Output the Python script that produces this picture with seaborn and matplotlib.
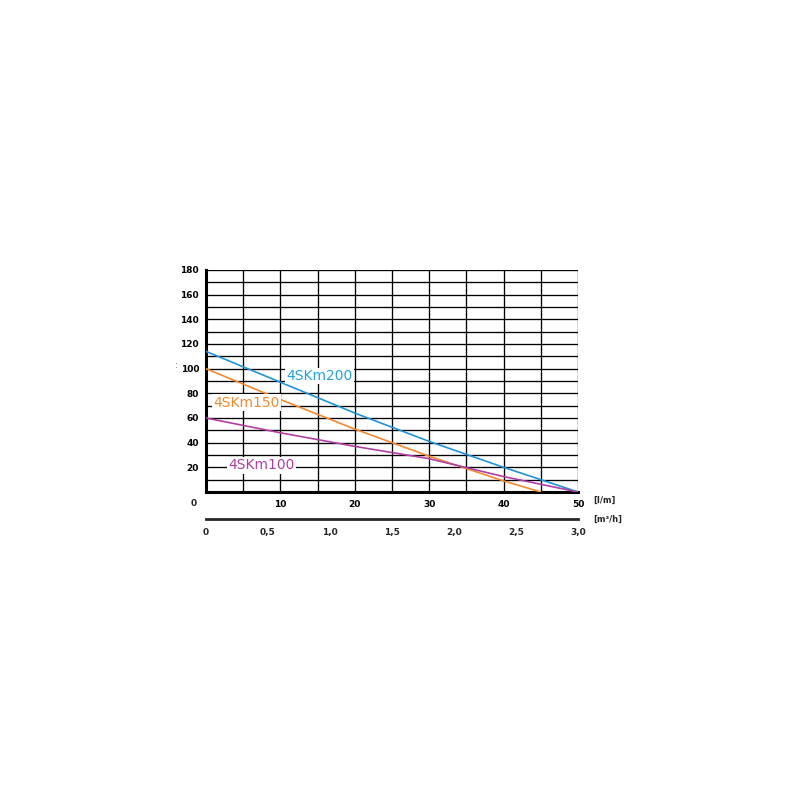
import matplotlib
matplotlib.use("Agg")
import matplotlib.pyplot as plt
import seaborn as sns
import pandas as pd
import numpy as np

# flow [l/min] and head [m]
flow = [0, 10, 20, 30, 40, 50]
head_200 = [114, 89, 64, 41, 20, 0]
flow_150 = [0, 10, 20, 30, 40, 45]
head_150 = [100, 75, 51, 29, 9, 0]
head_100 = [60, 48, 37, 27, 12.5, 0]

models = ["4SKm200", "4SKm150", "4SKm100"]
colors = ["#1f93d8", "#f28a2e", "#b23fa3"]
text_colors = ["#22a6d8", "#f28a2e", "#b23fa3"]

m3h_ticks = [0, 0.5, 1.0, 1.5, 2.0, 2.5, 3.0]
m3h_labels = ["0", "0,5", "1,0", "1,5", "2,0", "2,5", "3,0"]

df = pd.concat([
    pd.DataFrame({"flow": flow, "head": head_200, "model": models[0]}),
    pd.DataFrame({"flow": flow_150, "head": head_150, "model": models[1]}),
    pd.DataFrame({"flow": flow, "head": head_100, "model": models[2]}),
], ignore_index=True)

sns.set_style("white")
fig = plt.figure(figsize=(8, 8), dpi=100)
ax = fig.add_axes([0.2575, 0.385, 0.465, 0.2775])

sns.lineplot(data=df, x="flow", y="head", hue="model", palette=dict(zip(models, colors)),
             linewidth=1.2, legend=False, ax=ax, zorder=3)

ax.set_xlim(0, 50)
ax.set_ylim(0, 180)
ax.set_xticks(range(10, 51, 10))
ax.set_xticks(range(0, 51, 5), minor=True)
ax.set_yticks(range(20, 181, 20))
ax.set_yticks(range(10, 180, 20), minor=True)
ax.grid(which="both", color="black", linewidth=0.95, zorder=1)
ax.set_axisbelow(True)
ax.set_xlabel("")
ax.set_ylabel("")

for s in ["top", "right"]:
    ax.spines[s].set_visible(False)
for s in ["left", "bottom"]:
    ax.spines[s].set_linewidth(2.2)
    ax.spines[s].set_color("black")

ax.tick_params(axis="x", which="both", direction="out", length=3, width=2.5,
               labelsize=6.5, pad=3, colors="black")
ax.tick_params(axis="y", which="major", direction="out", length=3, width=2.5,
               labelsize=6.5, pad=2, colors="black")
ax.tick_params(axis="y", which="minor", length=0)
for lbl in ax.get_xticklabels() + ax.get_yticklabels():
    lbl.set_fontweight("bold")

ax.text(-1.2, -6, "0", ha="right", va="top", fontsize=6.5, fontweight="bold")
ax.text(52, -6.5, "[l/m]", ha="left", va="center", fontsize=6, fontweight="bold")
ax.text(-4.0, 103, ":", ha="center", va="center", fontsize=7, color="#777777")

# curve labels
label_pos = [(10.8, 94), (1.0, 72.5), (3.0, 21.5)]
for name, c, (lx, ly) in zip(models, text_colors, label_pos):
    ax.text(lx, ly, name, color=c, fontsize=10, ha="left", va="center", zorder=4,
            bbox=dict(facecolor="white", edgecolor="none", pad=1.0))

# second flow scale in m3/h
ax2 = fig.add_axes([0.2575, 0.351, 0.465, 0.0001])
ax2.set_xlim(0, 3.0)
ax2.set_yticks([])
for s in ["top", "right", "left"]:
    ax2.spines[s].set_visible(False)
ax2.spines["bottom"].set_linewidth(2.0)
ax2.set_xticks(m3h_ticks)
ax2.set_xticklabels(m3h_labels, fontweight="bold")
ax2.tick_params(axis="x", direction="out", length=3, width=2.5, labelsize=6.5, pad=3)
ax2.text(3.12, 0, "[m³/h]", ha="left", va="center", fontsize=6, fontweight="bold",
         transform=ax2.get_xaxis_transform())

fig.savefig("out.png", dpi=100, facecolor="white")
